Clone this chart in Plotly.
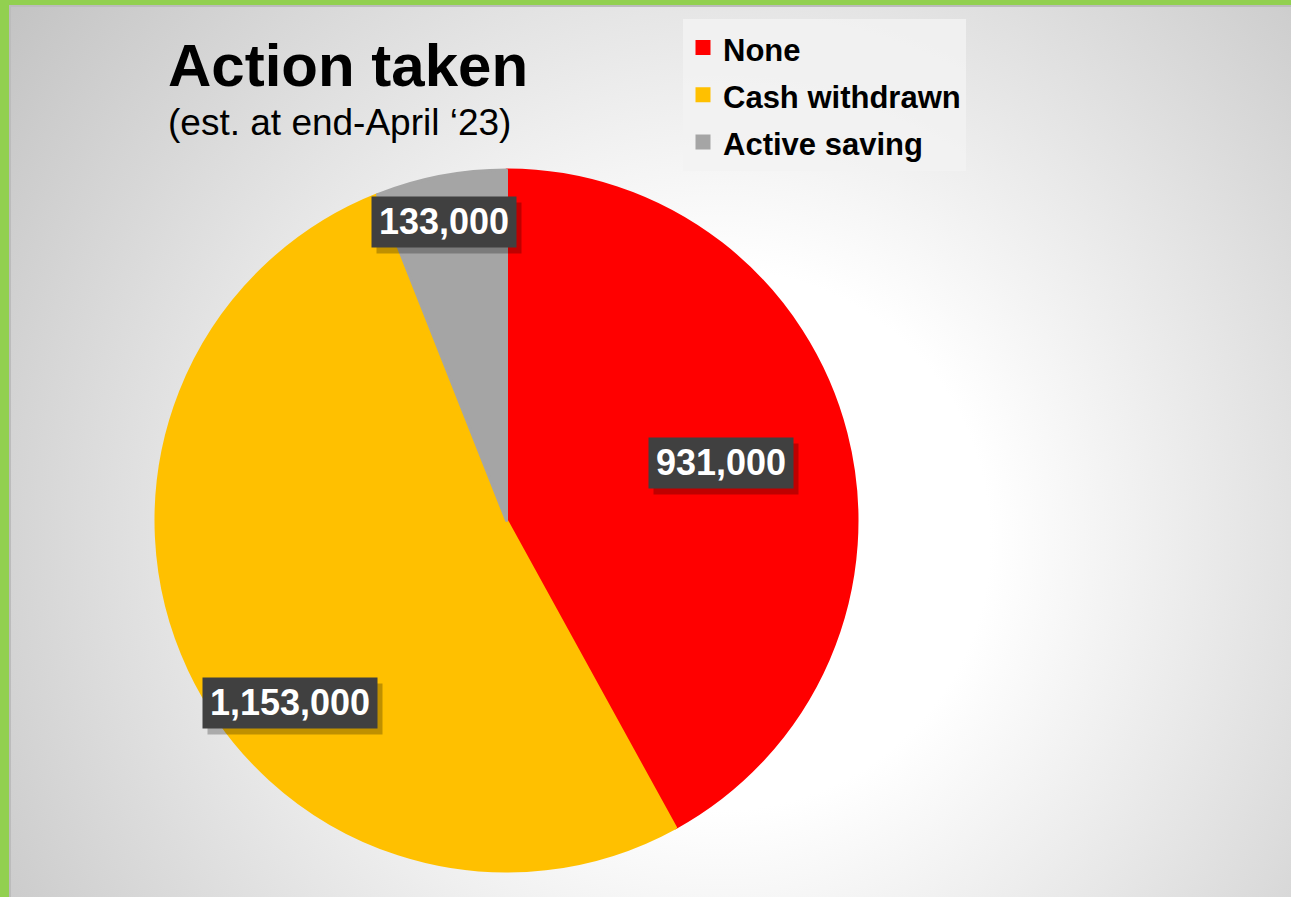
import base64
import math
import plotly.graph_objects as go

# ---- data ----
categories = ["None", "Cash withdrawn", "Active saving"]
values = [931000, 1153000, 133000]
colors = ["#FF0000", "#FFC000", "#A5A5A5"]
title_text = "Action taken"
subtitle_text = "(est. at end-April \u201823)"

# label placement (radial fraction of pie radius, angular nudge in degrees)
label_radius = [0.633, 0.807, 0.87]
label_angle_offset = [-0.5, -14.9, -1.1]

W, H = 1291, 897
# pie geometry in pixels
PCX, PCY, PR = 506.5, 520.5, 350.5
LABEL_FONT = 36
LABEL_PAD = 6

# ---- background: green frame + radial gray gradient ----
svg = f"""<svg xmlns='http://www.w3.org/2000/svg' width='{W}' height='{H}' viewBox='0 0 {W} {H}' preserveAspectRatio='none'>
<defs><radialGradient id='g' gradientUnits='userSpaceOnUse' cx='720' cy='540' r='900'>
<stop offset='0.3' stop-color='#ffffff'/><stop offset='1' stop-color='#c2c2c2'/></radialGradient></defs>
<rect width='{W}' height='{H}' fill='#92d050'/>
<rect x='9' y='5' width='{W-9}' height='{H-5}' fill='url(#g)'/>
<rect x='9' y='5' width='{W-9}' height='2' fill='#bcbcbc'/>
<rect x='9' y='5' width='2' height='{H-5}' fill='#bcbcbc'/>
</svg>"""
bg_uri = "data:image/svg+xml;base64," + base64.b64encode(svg.encode()).decode()

fig = go.Figure()
fig.add_trace(go.Pie(
    labels=[f"<span style='font-size:31px'>{c}</span>" for c in categories],
    values=values,
    marker=dict(colors=colors, line=dict(width=3, color=colors)),
    sort=False,
    direction="clockwise",
    rotation=0,
    textinfo="none",
    hoverinfo="label+value",
    domain=dict(x=[(PCX - PR) / W, (PCX + PR) / W],
                y=[(H - PCY - PR) / H, (H - PCY + PR) / H]),
))

# ---- data labels from values ----
total = sum(values)
annotations = []
cum = 0
for v, rf, off in zip(values, label_radius, label_angle_offset):
    mid = 360.0 * (cum + v / 2) / total + off
    cum += v
    a = math.radians(mid)
    xp = PCX + rf * PR * math.sin(a)
    yp = PCY - rf * PR * math.cos(a)
    s = f"{v:,}"
    txt = f"<b>{s}</b>"
    tw = (sum(ch.isdigit() for ch in s) * 0.556 + s.count(",") * 0.278) * LABEL_FONT + 2
    th = LABEL_FONT * 1.05
    # soft shadow box
    annotations.append(dict(
        x=xp / W, y=1 - yp / H, xref="paper", yref="paper", text=" ",
        showarrow=False, xanchor="center", yanchor="middle",
        width=tw, height=th,
        font=dict(family="Liberation Sans, Arial", size=LABEL_FONT, color="rgba(0,0,0,0)"),
        bgcolor="rgba(0,0,0,0.25)", borderpad=LABEL_PAD, xshift=5, yshift=-6))
    annotations.append(dict(
        x=xp / W, y=1 - yp / H, xref="paper", yref="paper", text=txt,
        showarrow=False, xanchor="center", yanchor="middle",
        width=tw, height=th,
        font=dict(family="Liberation Sans, Arial", size=LABEL_FONT, color="white"),
        bgcolor="#404040", borderpad=LABEL_PAD))

# ---- title ----
annotations.append(dict(
    x=166 / W, y=1 - 30 / H, xref="paper", yref="paper",
    text=f"<b>{title_text}</b>", showarrow=False, xanchor="left", yanchor="top",
    font=dict(family="Liberation Sans, Arial", size=60, color="black")))
annotations.append(dict(
    x=166 / W, y=1 - 100 / H, xref="paper", yref="paper",
    text=subtitle_text, showarrow=False, xanchor="left", yanchor="top",
    font=dict(family="Liberation Sans, Arial", size=37, color="black")))

fig.update_layout(
    width=W, height=H,
    margin=dict(l=0, r=0, t=0, b=0),
    paper_bgcolor="#d8d8d8",
    plot_bgcolor="rgba(0,0,0,0)",
    images=[dict(source=bg_uri, xref="paper", yref="paper", x=0, y=1,
                 sizex=1, sizey=1, xanchor="left", yanchor="top",
                 sizing="stretch", layer="below")],
    annotations=annotations,
    showlegend=True,
    legend=dict(
        x=683 / W, y=1 - 19 / H, xanchor="left", yanchor="top",
        bgcolor="rgba(242,242,242,0.85)",
        font=dict(family="Liberation Sans, Arial", size=34, color="black", weight="bold"),
        itemclick=False, itemdoubleclick=False,
    ),
)

fig.write_html(
    "out.html",
    config={"displayModeBar": False},
    post_script="document.body.style.margin='0';document.body.style.overflow='hidden';",
)
